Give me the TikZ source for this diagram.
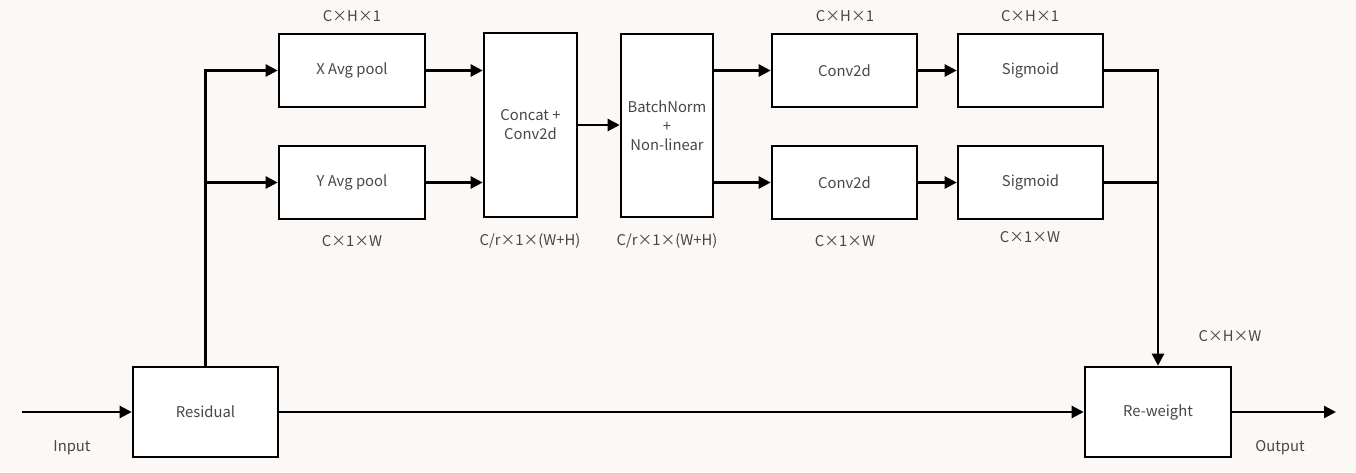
\documentclass[tikz,border=0pt]{standalone}
\usepackage{fontspec}
\setmainfont{Noto Sans CJK SC}
\usetikzlibrary{arrows.meta,calc}
\definecolor{bgc}{HTML}{FCF8F5}
\definecolor{txt}{HTML}{474747}
\tikzset{
  blk/.style={draw=black,fill=white,line width=2.6pt,rectangle,inner sep=0pt,
    minimum width=#1,align=center,text=txt,font=\fontsize{14.8}{19}\selectfont},
  blk/.default=146pt,
  conn/.style={line width=2.4pt,draw=black,line join=miter},
  arr/.style={conn,-{Triangle[length=12pt,width=12pt]}},
  lbl/.style={text=txt,font=\fontsize{14.8}{18}\selectfont,inner sep=0pt},
}
\begin{document}
\begin{tikzpicture}[x=1pt,y=-1pt]
\fill[bgc] (0,0) rectangle (1356,472);
\useasboundingbox (0,0) rectangle (1356,472);
% blocks
\node[blk,minimum height=73pt] (xp) at (352,70.5) {X Avg pool};
\node[blk,minimum height=73pt] (yp) at (352,182.5) {Y Avg pool};
\node[blk=93pt,minimum height=184pt] (cc) at (530.5,125) {Concat +\\Conv2d};
\node[blk=92pt,minimum height=183pt] (bn) at (667,125.5) {BatchNorm\\+\\Non-linear};
\node[blk=145pt,minimum height=73pt] (c1) at (844.5,70.5) {Conv2d};
\node[blk=145pt,minimum height=73pt] (c2) at (844.5,182.5) {Conv2d};
\node[blk=145pt,minimum height=73pt] (s1) at (1030.5,70.5) {Sigmoid};
\node[blk=145pt,minimum height=73pt] (s2) at (1030.5,182.5) {Sigmoid};
\node[blk=145pt,minimum height=90pt] (res) at (205.5,412) {Residual};
\node[blk=146pt,minimum height=90pt] (rw) at (1158,412) {Re-weight};
% labels
\node[lbl] (l1) at (352,16) {C×H×1};
\node[lbl] (l2) at (352,241) {C×1×W};
\node[lbl] (l3) at (530,241) {C/r×1×(W+H)};
\node[lbl] (l4) at (667,241) {C/r×1×(W+H)};
\node[lbl] (l5) at (845,16) {C×H×1};
\node[lbl] (l6) at (845,241) {C×1×W};
\node[lbl] (l7) at (1030,16) {C×H×1};
\node[lbl] (l8) at (1030,237) {C×1×W};
\node[lbl] (l9) at (1230,336) {C×H×W};
\node[lbl] (lin) at (72,448) {Input};
\node[lbl] (lout) at (1280,448) {Output};
% connectors
\coordinate (in) at (22,412);
\coordinate (out) at (1336,412);
\draw[arr] (in) -- (res.west);
\draw[arr] (res.north) |- (xp.west);
\draw[arr] (res.north |- yp.west) -- (yp.west);
\draw[arr] (xp.east) -- (xp.east -| cc.west);
\draw[arr] (yp.east) -- (yp.east -| cc.west);
\draw[arr] (cc.east) -- (cc.east -| bn.west);
\draw[arr] (bn.east |- c1.west) -- (c1.west);
\draw[arr] (bn.east |- c2.west) -- (c2.west);
\draw[arr] (c1.east) -- (s1.west);
\draw[arr] (c2.east) -- (s2.west);
\draw[arr] (s1.east) -| (rw.north);
\draw[conn] (s2.east) -- ($(s2.east -| rw.north)+(1.2,0)$);
\draw[arr] (res.east) -- (rw.west);
\draw[arr] (rw.east) -- (out);
\end{tikzpicture}
\end{document}
